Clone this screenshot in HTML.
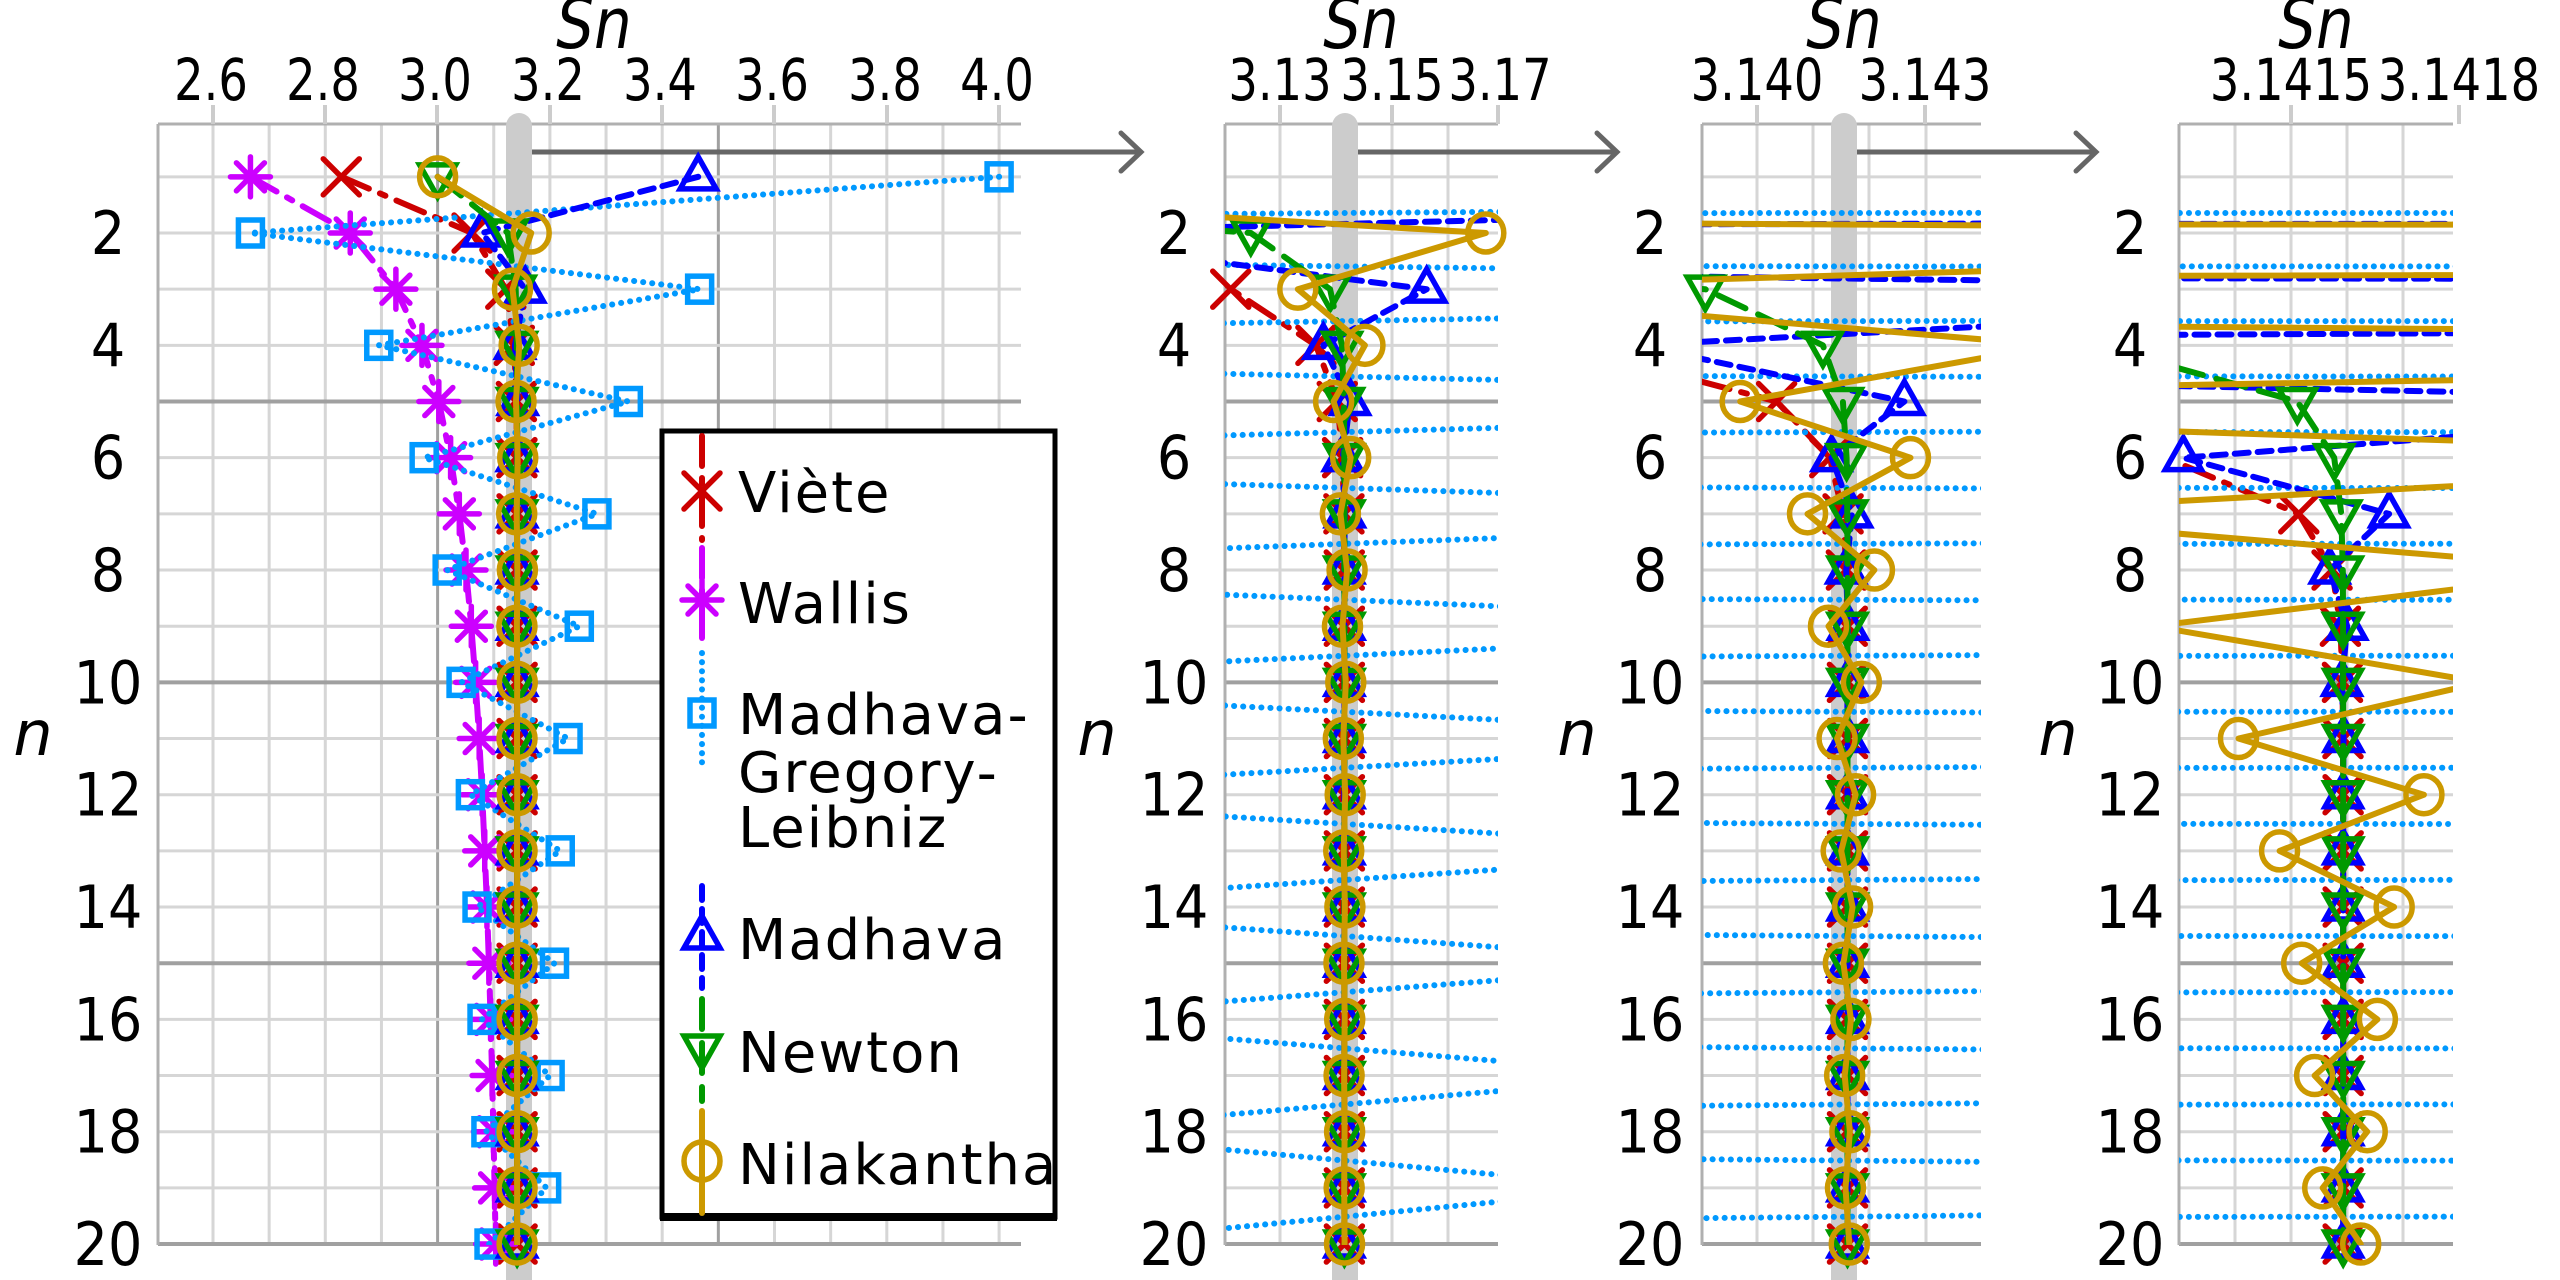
<!DOCTYPE html>
<html><head><meta charset="utf-8"><style>
html,body{margin:0;padding:0;background:#fff;}
svg{display:block;}
.t{font-family:"DejaVu Sans","Liberation Sans",sans-serif;fill:#000;}
.l{font-family:"DejaVu Sans","Liberation Sans",sans-serif;fill:#000;}
</style></head><body>
<svg id="s" width="2560" height="1280" viewBox="0 0 2560 1280" xmlns="http://www.w3.org/2000/svg">
<defs>
<clipPath id="c0"><rect x="158" y="124" width="863" height="1121"/></clipPath>
<clipPath id="c1"><rect x="1225" y="124" width="273" height="1121"/></clipPath>
<clipPath id="c2"><rect x="1702" y="124" width="279" height="1121"/></clipPath>
<clipPath id="c3"><rect x="2179" y="124" width="274" height="1121"/></clipPath>
</defs>
<g id="grid"></g>
<g id="series"></g>
<g id="texts">
<g class="t" font-size="58" text-anchor="middle">
<text transform="translate(211,100) scale(0.8,1)">2.6</text>
<text transform="translate(323,100) scale(0.8,1)">2.8</text>
<text transform="translate(435,100) scale(0.8,1)">3.0</text>
<text transform="translate(548,100) scale(0.8,1)">3.2</text>
<text transform="translate(660,100) scale(0.8,1)">3.4</text>
<text transform="translate(772,100) scale(0.8,1)">3.6</text>
<text transform="translate(885,100) scale(0.8,1)">3.8</text>
<text transform="translate(997,100) scale(0.8,1)">4.0</text>
<text transform="translate(1280,100) scale(0.8,1)">3.13</text>
<text transform="translate(1392,100) scale(0.8,1)">3.15</text>
<text transform="translate(1500,100) scale(0.8,1)">3.17</text>
<text transform="translate(1757,100) scale(0.8,1)">3.140</text>
<text transform="translate(1925,100) scale(0.8,1)">3.143</text>
<text transform="translate(2291,100) scale(0.8,1)">3.1415</text>
<text transform="translate(2459,100) scale(0.8,1)">3.1418</text>
</g>
<g class="t" font-size="70" font-style="italic" text-anchor="middle">
<text transform="translate(594,48) scale(0.85,1)">Sn</text>
<text transform="translate(1361,48) scale(0.85,1)">Sn</text>
<text transform="translate(1844,48) scale(0.85,1)">Sn</text>
<text transform="translate(2316,48) scale(0.85,1)">Sn</text>
</g>
<g class="t" font-size="62" font-style="italic" text-anchor="middle">
<text x="33" y="755">n</text><text x="1097" y="755">n</text><text x="1577" y="755">n</text><text x="2058" y="755">n</text>
</g>
<g id="ylab" class="t" font-size="60" text-anchor="middle"></g>
</g>
<g id="legend">
<rect x="662" y="431" width="393" height="786" fill="#fff" stroke="#000" stroke-width="5"/>
<line x1="660" y1="1217" x2="1057" y2="1217" stroke="#000" stroke-width="8"/>
<g id="legsym"></g>
<g class="l" font-size="56" letter-spacing="2">
<text x="738" y="512">Viète</text>
<text x="738" y="623">Wallis</text>
<text x="738" y="734">Madhava-</text>
<text x="738" y="792">Gregory-</text>
<text x="738" y="847">Leibniz</text>
<text x="738" y="959">Madhava</text>
<text x="738" y="1072">Newton</text>
<text x="738" y="1184">Nilakantha</text>
</g>
</g>
</svg>
<script>
(function(){
var NS="http://www.w3.org/2000/svg";
function el(p,tag,a){var e=document.createElementNS(NS,tag);for(var k in a)e.setAttribute(k,a[k]);p.appendChild(e);return e;}
var grid=document.getElementById('grid'),ser=document.getElementById('series'),leg=document.getElementById('legsym'),yl=document.getElementById('ylab');
function Y(n){return 233+(n-2)*56.17;}
[108,1174,1650,2130].forEach(function(cx){for(var n=2;n<=20;n+=2){var t=el(yl,'text',{transform:'translate('+cx+','+(Y(n)+21).toFixed(1)+') scale(0.9,1)'});t.textContent=String(n);}});
var P=[
 {L:158,R:1021,f:function(v){return 213+(v-2.6)*561.5;},band:519,ticks:[213,325,437,550,662,774,887,999]},
 {L:1225,R:1498,f:function(v){return 1279+(v-3.13)*5640;},band:1345,ticks:[1280,1392,1498]},
 {L:1702,R:1981,f:function(v){return 1758+(v-3.14)*56200;},band:1844,ticks:[1757,1925]},
 {L:2179,R:2453,f:function(v){return 2291+(v-3.1415)*563000;},band:null,ticks:[2291,2459]}
];
var vg=[[],[1280,1336,1392,1448],[1757,1813,1869,1926],[2235,2291,2347,2403]];
for(var v=2.6;v<4.05;v+=0.1){vg[0].push([P[0].f(v),Math.abs(v-3.0)<0.01||Math.abs(v-3.5)<0.01]);}
P.forEach(function(p,i){
  var T=124,B=1245;
  vg[i].forEach(function(g){var x=Array.isArray(g)?g[0]:g,mj=Array.isArray(g)?g[1]:false;
    el(grid,'line',{x1:x,y1:T,x2:x,y2:B,stroke:mj?'#a0a0a0':'#d6d6d6','stroke-width':3});});
  for(var n=1;n<=20;n++){var mj=(n%5==0);
    el(grid,'line',{x1:p.L,y1:Y(n),x2:p.R,y2:Y(n),stroke:mj?'#a0a0a0':'#d6d6d6','stroke-width':mj?4:3});}
  el(grid,'line',{x1:p.L,y1:T,x2:p.R,y2:T,stroke:'#b0b0b0','stroke-width':3});
  el(grid,'line',{x1:p.L,y1:T,x2:p.L,y2:B,stroke:'#b0b0b0','stroke-width':3});
  p.ticks.forEach(function(x){el(grid,'line',{x1:x,y1:105,x2:x,y2:124,stroke:'#cccccc','stroke-width':4});});
  if(p.band!==null){el(grid,'rect',{x:p.band-13,y:113,width:26,height:1200,rx:13,fill:'#cccccc'});}
});
[[532,1141],[1358,1617],[1857,2096]].forEach(function(a){
  el(grid,'line',{x1:a[0],y1:152,x2:a[1],y2:152,stroke:'#666','stroke-width':5});
  el(grid,'polyline',{points:(a[1]-20)+',133 '+a[1]+',152 '+(a[1]-20)+',171',fill:'none',stroke:'#666','stroke-width':5,'stroke-linecap':'round'});
});
var N=20,vi=[],wa=[],mg=[],ma=[],ne=[],ni=[];
var a=Math.SQRT2,pr=2*2/a;vi.push(pr);for(var n=2;n<=N;n++){a=Math.sqrt(2+a);pr=pr*2/a;vi.push(pr);}
var w=2;for(n=1;n<=N;n++){w*=4*n*n/(4*n*n-1);wa.push(w);}
var s=0;for(var k=0;k<N;k++){s+=(k%2?-1:1)/(2*k+1);mg.push(4*s);}
s=0;for(k=0;k<N;k++){s+=Math.pow(-1/3,k)/(2*k+1);ma.push(Math.sqrt(12)*s);}
var c=1;s=0;for(k=0;k<N;k++){if(k>0)c*=(2*k-1)/(2*k);s+=c*Math.pow(0.5,2*k+1)/(2*k+1);ne.push(6*s);}
s=3;ni.push(s);for(k=1;k<N;k++){s+=(k%2?1:-1)*4/((2*k)*(2*k+1)*(2*k+2));ni.push(s);}
var S=[
 {d:vi,col:'#cc0000',dash:'30 12 6 12',m:'x'},
 {d:wa,col:'#cc00ff',dash:'30 12 6 12',m:'*'},
 {d:mg,col:'#0099ff',dash:'0.1 9',m:'s'},
 {d:ma,col:'#0000ff',dash:'14 9',m:'^'},
 {d:ne,col:'#009900',dash:'30 14',m:'v'},
 {d:ni,col:'#cc9900',dash:'none',m:'o'}
];
function marker(g,m,x,y,col){
  var st={fill:'none',stroke:col,'stroke-width':5.5,'stroke-linecap':'round','stroke-linejoin':'miter'};
  function L(x1,y1,x2,y2){var o=Object.assign({x1:x1,y1:y1,x2:x2,y2:y2},st);el(g,'line',o);}
  if(m=='x'){L(x-18,y-18,x+18,y+18);L(x-18,y+18,x+18,y-18);}
  else if(m=='*'){L(x,y-20,x,y+20);L(x-20,y,x+20,y);L(x-14,y-14,x+14,y+14);L(x-14,y+14,x+14,y-14);}
  else if(m=='s'){el(g,'rect',Object.assign({x:x-12,y:y-13,width:24,height:26},st));}
  else if(m=='^'){el(g,'polygon',Object.assign({points:(x)+','+(y-20)+' '+(x+18)+','+(y+12)+' '+(x-18)+','+(y+12)},st));}
  else if(m=='v'){el(g,'polygon',Object.assign({points:(x-18)+','+(y-12)+' '+(x+18)+','+(y-12)+' '+x+','+(y+20)},st));}
  else if(m=='o'){el(g,'ellipse',Object.assign({cx:x,cy:y,rx:18,ry:19},st));}
}
P.forEach(function(p,i){
  var g=el(ser,'g',{});
  S.forEach(function(se){
    var pts=se.d.map(function(v,j){return [p.f(v),Y(j+1)];});
    var cg=el(g,'g',{'clip-path':'url(#c'+i+')'});
    var o={points:pts.map(function(q){return q[0].toFixed(1)+','+q[1].toFixed(1);}).join(' '),fill:'none',stroke:se.col,'stroke-width':6,'stroke-linecap':'round','stroke-linejoin':'round'};
    if(se.dash!='none')o['stroke-dasharray']=se.dash;
    el(cg,'polyline',o);
    pts.forEach(function(q){if(q[0]>=p.L-3&&q[0]<=p.R+3)marker(g,se.m,q[0],q[1],se.col);});
  });
});
var LY=[[436,540,491],[548,648,600],[653,763,713],[886,988,936],[999,1101,1048],[1111,1213,1161]];
S.forEach(function(se,i){
  var o={x1:702,y1:LY[i][0],x2:702,y2:LY[i][1],stroke:se.col,'stroke-width':6,'stroke-linecap':'round'};
  if(se.dash!='none')o['stroke-dasharray']=se.dash;
  el(leg,'line',o);
  marker(leg,se.m,702,LY[i][2],se.col);
});
})();
</script>
</body></html>
